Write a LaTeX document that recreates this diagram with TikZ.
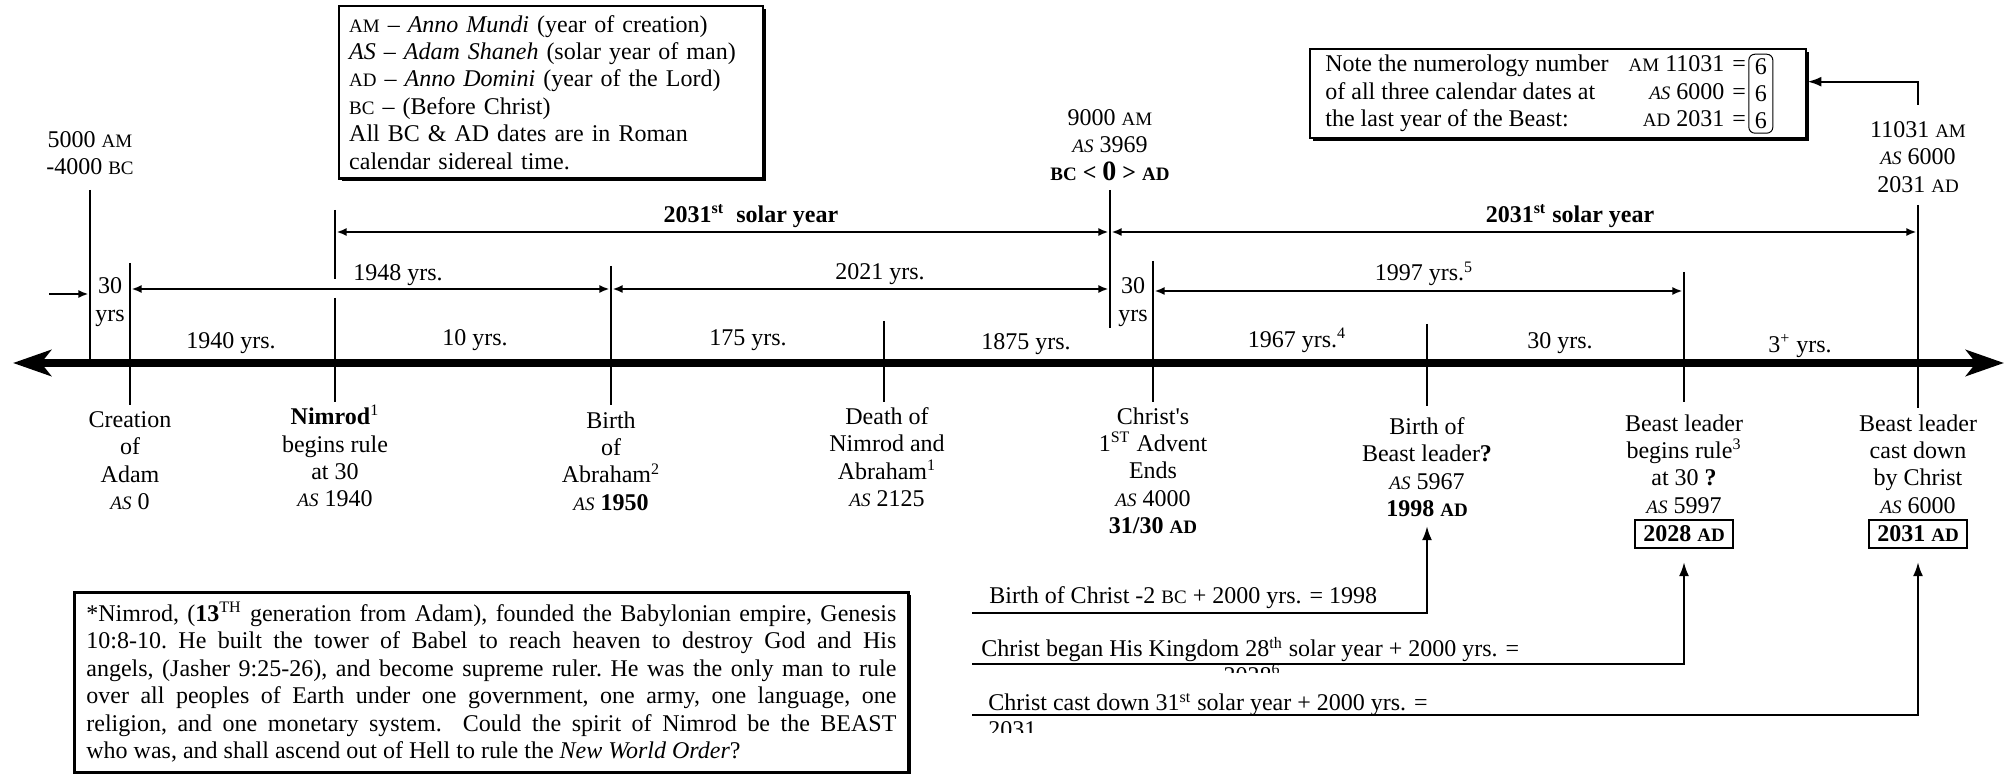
\documentclass[tikz,border=0pt]{standalone}
\usepackage{fontspec}
\setmainfont{Liberation Serif}
\usetikzlibrary{arrows.meta,positioning,shadows}
\newcommand{\scap}[1]{{\fontsize{9.5}{10}\selectfont #1}}
\newcommand{\asx}{\textit{\scap{AS}}}

\begin{document}
\begin{tikzpicture}[x=0.5pt, y=-0.5pt,
  every node/.style={font=\fontsize{12}{13.7}\selectfont, inner sep=0pt},
  tickln/.style={line width=0.7pt},
  spanln/.style={line width=0.9pt, {Latex[length=5pt,width=4pt]}-{Latex[length=5pt,width=4pt]}, shorten <=0.8pt, shorten >=0.8pt},
  feedln/.style={line width=1.1pt, -{Latex[length=7pt,width=5pt]}},
  datelbl/.style={align=center, anchor=north},
  yrlbl/.style={anchor=center},
  notebox/.style={draw, line width=1.2pt, fill=white, drop shadow={shadow xshift=1.3pt, shadow yshift=-1.3pt, fill=black, opacity=1}},
  adbox/.style={draw, line width=1pt, inner xsep=4pt, inner ysep=3pt}]
  \useasboundingbox (0,0) rectangle (2014,774);

  % main time axis
  \coordinate (axL) at (13,363);
  \coordinate (axR) at (2004,363);
  \draw[line width=4pt, {Stealth[length=19pt,width=13pt,inset=5pt]}-{Stealth[length=19pt,width=13pt,inset=5pt]}] (axL) -- (axR);

  % ticks
  \foreach \x/\ya/\yb in {90/190/363, 130/263/405, 335/210/279, 335/298/402, 611/266/405, 884/321/402,
      1110/190/328, 1153/261/402, 1427/324/406, 1684/272/402, 1918/205/408}
    \draw[tickln] (\x,\ya) -- (\x,\yb);

  % top dates
  \node[datelbl] (topam) at (90,131) {5000 \scap{AM}\\-4000 \scap{BC}};
  \node[datelbl] (topzero) at (1110,109) {9000 \scap{AM}\\\asx{} 3969\\\textbf{\scap{BC} < {\fontsize{14}{14}\selectfont 0} > \scap{AD}}};
  \node[datelbl] (topend) at (1918,121) {11031 \scap{AM}\\\asx{} 6000\\2031 \scap{AD}};

  % legend
  \node[notebox, anchor=north west, align=left, text width=202pt, inner xsep=5pt, inner ysep=4.5pt] (legend) at (338,5)
    {\scap{AM} -- \textit{Anno Mundi} (year of creation)\\
     \textit{AS} -- \textit{Adam Shaneh} (solar year of man)\\
     \scap{AD} -- \textit{Anno Domini} (year of the Lord)\\
     \scap{BC} -- (Before Christ)\\
     All BC \& AD dates are in Roman\\
     calendar sidereal time.};

  % numerology note
  \node[notebox, anchor=north west, minimum width=248pt, minimum height=44.5pt] (numnote) at (1309,48) {};
  \node[anchor=west] (numtxt) at ([xshift=8pt]numnote.west)
    {\begin{tabular}{@{}l@{\hspace{10pt}}r@{\hspace{4pt}}l@{}}
      Note the numerology number & \scap{AM} 11031 & =\\
      of all three calendar dates at & \asx{} 6000 & =\\
      the last year of the Beast: & \scap{AD} 2031 & =
    \end{tabular}};
  \node[draw, rounded corners=3pt, line width=0.5pt, align=center, inner xsep=3pt, inner ysep=2pt, right=1pt of numtxt] (sixes) {6\\6\\6};
  \coordinate (numtop) at (1918,105);
  \draw[feedln] (numtop) |- ([yshift=6pt]numnote.east);

  % spans
  \coordinate (sNim) at (335,232);
  \coordinate (sZero) at (1110,232);
  \coordinate (sEnd) at (1918,232);
  \draw[spanln] (sNim) -- (sZero);
  \draw[spanln] (sZero) -- (sEnd);
  \node[yrlbl] (solarA) at (751,216) {\textbf{2031\textsuperscript{st}\ \ solar year}};
  \node[yrlbl] (solarB) at (1570,216) {\textbf{2031\textsuperscript{st} solar year}};

  \coordinate (sCre) at (130,289);
  \coordinate (sAbr) at (611,289);
  \coordinate (sZero2) at (1110,289);
  \coordinate (sChr) at (1153,291);
  \coordinate (sRule) at (1684,291);
  \coordinate (sIn) at (49,294);
  \coordinate (sAm) at (90,294);
  \draw[spanln] (sCre) -- (sAbr);
  \draw[spanln] (sAbr) -- (sZero2);
  \draw[spanln] (sChr) -- (sRule);
  \draw[line width=0.9pt, -{Latex[length=5pt,width=4pt]}, shorten >=0.8pt] (sIn) -- (sAm);
  \node[yrlbl] (y1948) at (398,275) {1948 yrs.};
  \node[yrlbl] (y2021) at (880,274) {2021 yrs.};
  \node[yrlbl] (y1997) at (1424,274) {1997 yrs.\textsuperscript{5}};
  \node[yrlbl, align=center] (thirtyA) at (110,302) {30\\yrs};
  \node[yrlbl, align=center] (thirtyB) at (1133,302) {30\\yrs};

  % intervals on the axis
  \node[yrlbl] (y1940) at (231,343) {1940 yrs.};
  \node[yrlbl] (y10) at (475,340) {10 yrs.};
  \node[yrlbl] (y175) at (748,340) {175 yrs.};
  \node[yrlbl] (y1875) at (1026,344) {1875 yrs.};
  \node[yrlbl] (y1967) at (1297,340) {1967 yrs.\textsuperscript{4}};
  \node[yrlbl] (y30) at (1560,343) {30 yrs.};
  \node[yrlbl] (y3) at (1800,346) {3\textsuperscript{+} yrs.};

  % events
  \node[datelbl] (creation) at (130,411) {Creation\\of\\Adam\\\asx{} 0};
  \node[datelbl] (nimrod) at (335,405) {\textbf{Nimrod}\textsuperscript{1}\\begins rule\\at 30\\\asx{} 1940};
  \node[datelbl] (abraham) at (611,411) {Birth\\of\\Abraham\textsuperscript{2}\\\asx{} \textbf{1950}};
  \node[datelbl] (death) at (887,407) {Death of\\Nimrod and\\Abraham\textsuperscript{1}\\\asx{} 2125};
  \node[datelbl] (christ) at (1153,407) {Christ\textquotesingle s\\1\textsuperscript{ST} Advent\\Ends\\\asx{} 4000\\\textbf{31/30 \scap{AD}}};
  \node[datelbl] (bbirth) at (1427,417) {Birth of\\Beast leader\textbf{?}\\\asx{} 5967\\\textbf{1998 \scap{AD}}};
  \node[datelbl] (brule) at (1684,414) {Beast leader\\begins rule\textsuperscript{3}\\at 30 \textbf{?}\\\asx{} 5997};
  \node[adbox] (rulead) at (1684,534) {\textbf{2028 \scap{AD}}};
  \node[datelbl] (bend) at (1918,414) {Beast leader\\cast down\\ by Christ\\\asx{} 6000};
  \node[adbox] (endad) at (1918,534) {\textbf{2031 \scap{AD}}};

  % 2000 year links
  \coordinate (fBirth) at (972,613);
  \coordinate (fRule) at (972,664);
  \coordinate (fEnd) at (972,715);
  \draw[feedln, shorten >=4.5pt] (fBirth) -| (bbirth.south);
  \draw[feedln, shorten >=6.5pt] (fRule) -| (rulead.south);
  \draw[feedln, shorten >=6.5pt] (fEnd) -| (endad.south);
  \node[anchor=base west] (fBirthtxt) at (989,604) {Birth of Christ -2 \scap{BC} + 2000 yrs. = 1998};
  \node[anchor=base west] (fRuletxt) at (981,657) {Christ began His Kingdom 28\textsuperscript{th} solar year + 2000 yrs. =};
  \node[anchor=base west] (fEndtxt) at (988,711) {Christ cast down 31\textsuperscript{st} solar year + 2000 yrs. =};
  \begin{scope}
    \clip (1150,666) rectangle (1350,673);
    \node[anchor=base] (fRulenum) at (1252,683) {2028\textsuperscript{6}};
  \end{scope}
  \begin{scope}
    \clip (980,720) rectangle (1100,733);
    \node[anchor=base west] (fEndnum) at (988,738) {2031};
  \end{scope}

  % Nimrod note
  \node[notebox, anchor=north west, text width=405pt, align=justify, line width=1.4pt, inner xsep=6pt, inner ysep=5pt] (nimnote) at (73,591)
    {\frenchspacing *Nimrod, (\textbf{13}\textsuperscript{TH} generation from Adam), founded the Babylonian empire, Genesis\linebreak
     10:8-10. He built the tower of Babel to reach heaven to destroy God and His\linebreak
     angels, (Jasher 9:25-26), and become supreme ruler. He was the only man to rule\linebreak
     over all peoples of Earth under one government, one army, one language, one\linebreak
     religion, and one monetary system.\ \ Could the spirit of Nimrod be the BEAST\linebreak
     who was, and shall ascend out of Hell to rule the \textit{New World Order}?};
\end{tikzpicture}
\end{document}
